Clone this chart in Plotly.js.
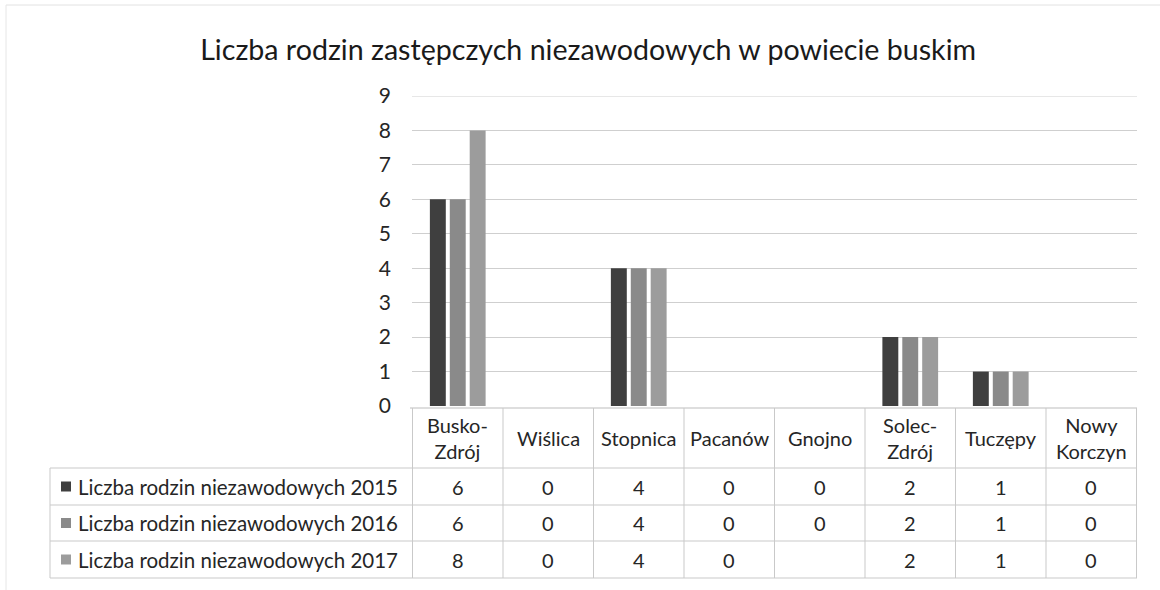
<!DOCTYPE html>
<html>
<head>
<meta charset="utf-8">
<script src="https://cdn.plot.ly/plotly-3.0.1.min.js"></script>
<style>html,body{margin:0;padding:0;background:#fff;}#chart{width:1160px;height:590px;}</style>
</head>
<body>
<div id="chart"></div>
<script>
const categories = ['Busko-Zdrój','Wiślica','Stopnica','Pacanów','Gnojno','Solec-Zdrój','Tuczępy','Nowy Korczyn'];
const headerLabels = ['Busko-<br>Zdrój','Wiślica','Stopnica','Pacanów','Gnojno','Solec-<br>Zdrój','Tuczępy','Nowy<br>Korczyn'];
const seriesNames = ['Liczba rodzin niezawodowych 2015','Liczba rodzin niezawodowych 2016','Liczba rodzin niezawodowych 2017'];
const v2015 = [6,0,4,0,0,2,1,0];
const v2016 = [6,0,4,0,0,2,1,0];
const v2017 = [8,0,4,0,null,2,1,0];
const yTicks = [0,1,2,3,4,5,6,7,8,9];
const colors = ['#3f3f3f','#8a8a8a','#9c9c9c'];
const series = [v2015, v2016, v2017];

const W = 1160, H = 590;
const L = 412, R = 1137, T = 96, B = 406;
const px = x => (x - L) / (R - L);
const py = y => (B - y) / (B - T);
const font = 'Lato, "Open Sans", sans-serif';
const txt = '#262626';
const lineC = '#c9c9c9';

const traces = series.map((vals, i) => ({
  type: 'bar', x: categories, y: vals, name: seriesNames[i],
  marker: {color: colors[i]}, hoverinfo: 'skip'
}));

const rowEdges = [468, 505, 541, 578];
const shapes = [];
// top gridline at 9
shapes.push({type:'line', xref:'paper', yref:'y', x0:0, x1:1, y0:9, y1:9, line:{color:'#cfcfcf', width:1}});
// horizontal table lines
shapes.push({type:'line', xref:'paper', yref:'paper', x0:px(410), x1:px(R), y0:py(408), y1:py(408), line:{color:'#bdbdbd', width:1}});
rowEdges.forEach(y => shapes.push({type:'line', xref:'paper', yref:'paper', x0:px(50), x1:px(R), y0:py(y), y1:py(y), line:{color:lineC, width:1}}));
// vertical table lines
for (let k = 0; k <= categories.length; k++) {
  shapes.push({type:'line', xref:'x', yref:'paper', x0:k-0.5, x1:k-0.5, y0:py(408), y1:py(578), line:{color:lineC, width:1}});
}
shapes.push({type:'line', xref:'paper', yref:'paper', x0:px(50), x1:px(50), y0:py(468), y1:py(578), line:{color:lineC, width:1}});
// outer chart border (top & left)
shapes.push({type:'line', xref:'paper', yref:'paper', x0:px(6), x1:px(1160), y0:py(5), y1:py(5), line:{color:'#e2e2e2', width:1}});
shapes.push({type:'line', xref:'paper', yref:'paper', x0:px(6), x1:px(6), y0:py(5), y1:py(590), line:{color:'#e6e6e6', width:1}});

const tsize = 20;
const annotations = [];
headerLabels.forEach((lab, k) => annotations.push({
  xref:'x', yref:'paper', x:categories[k], y:py(438), text:lab, showarrow:false,
  xanchor:'center', yanchor:'middle', font:{family:font, size:tsize, color:txt}
}));
series.forEach((vals, i) => {
  const yc = (rowEdges[i] + rowEdges[i+1]) / 2;
  // legend key
  shapes.push({type:'rect', xref:'paper', yref:'paper', x0:px(61), x1:px(71), y0:py(yc-5), y1:py(yc+5), fillcolor:colors[i], line:{width:0}});
  annotations.push({xref:'paper', yref:'paper', x:px(76), y:py(yc), text:seriesNames[i], showarrow:false,
    xanchor:'left', yanchor:'middle', font:{family:font, size:20.5, color:txt}});
  vals.forEach((v, k) => annotations.push({
    xref:'x', yref:'paper', x:categories[k], y:py(yc), text: v === null ? '' : String(v), showarrow:false,
    xanchor:'center', yanchor:'middle', font:{family:font, size:tsize, color:txt}
  }));
});

const layout = {
  width: W, height: H,
  margin: {l: L, r: W - R, t: T, b: H - B, pad: 0},
  paper_bgcolor: '#ffffff', plot_bgcolor: '#ffffff',
  title: {text: 'Liczba rodzin zastępczych niezawodowych w powiecie buskim', x: 0.507, xanchor: 'center', y: 1 - 50/H, yanchor: 'middle',
    font: {family: font, size: 28.6, color: '#1a1a1a'}},
  showlegend: false,
  barmode: 'group', bargap: 0.34, bargroupgap: 0.2,
  xaxis: {type:'category', showticklabels:false, showgrid:false, zeroline:false, showline:false, ticks:'', fixedrange:true},
  yaxis: {range:[0,9], tickvals:yTicks, ticktext:yTicks.map(String), showgrid:true, gridcolor:'#cfcfcf', gridwidth:1,
    zeroline:false, showline:false, ticks:'', ticklabelstandoff:20,
    tickfont:{family:font, size:21, color:txt}, fixedrange:true},
  shapes: shapes, annotations: annotations
};

Plotly.newPlot('chart', traces, layout, {displayModeBar:false, staticPlot:true});
</script>
</body>
</html>
